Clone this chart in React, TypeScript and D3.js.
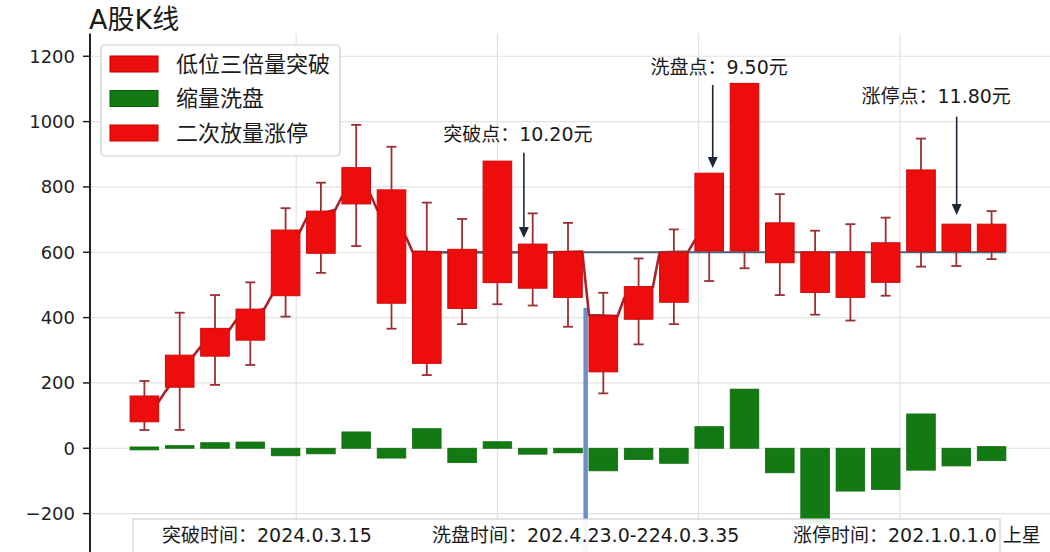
import React from "react";
import * as d3 from "d3";

// ---- data ----
const candles = [0, 1, 2, 3, 4, 5, 6, 7, 8, 9, 10, 11, 12, 13, 14, 15, 16, 17, 18, 19, 20, 21, 22, 23, 24];
const boxLow = [81, 187, 282, 331, 467, 597, 748, 444, 260, 428, 507, 490, 462, 234, 395, 447, 604, 604, 568, 477, 462, 508, 603, 603, 603];
const boxHigh = [160, 285, 367, 426, 668, 726, 859, 791, 602, 609, 879, 625, 602, 405, 495, 600, 842, 1117, 690, 601, 601, 629, 852, 686, 686];
const whiskLow = [56, 56, 194, 255, 403, 537, 619, 366, 224, 380, 441, 437, 372, 168, 318, 380, 512, 551, 469, 409, 391, 467, 556, 558, 579];
const whiskHigh = [206, 415, 469, 508, 735, 813, 990, 923, 752, 702, 879, 719, 690, 476, 581, 670, 842, 1117, 778, 666, 686, 706, 948, 686, 726];
// trend line: value where it enters (left edge) and leaves (right edge) each candle
const trendIn = [100, 174, 311, 392, 465, 705, 770, 730, 602, 600, 600, 600, 600, 408, 460, 600, 637, null, null, null, null, null, null, null, null];
const trendOut = [143, 285, 362, 428, 663, 730, 776, 648, 600, 600, 600, 600, 602, 405, 494, 602, 640, null, null, null, null, null, null, null, null];
const volLow = [-5, 0, 0, 0, -23, -17, 0, -30, 0, -44, 0, -18, -14, -69, -34, -46, 0, 0, -75, -230, -131, -126, -67, -54, -38];
const volHigh = [4, 8, 17, 19, 0, 0, 50, 0, 60, 0, 20, 0, 0, 0, 0, 0, 66, 181, 0, 0, 0, 0, 105, 0, 5];
const yTicks = [-200, 0, 200, 400, 600, 800, 1000, 1200];
const xGrid = [4.3, 10, 15.7, 21.4];
const breakLevel = 600;
const breakStart = 8;
const washLine = { x: 12.5, top: 430 };
const legendItems = [
  { label: "低位三倍量突破", color: "#ee0d0d", edge: "#c40000" },
  { label: "缩量洗盘", color: "#137a13", edge: "#0b5e0b" },
  { label: "二次放量涨停", color: "#ee0d0d", edge: "#c40000" },
];
const annotations = [
  { label: "突破点：10.20元", textX: 10.58, textY: 961, arrowX: 10.75, tail: 905, tip: 644 },
  { label: "洗盘点：9.50元", textX: 16.28, textY: 1168, arrowX: 16.1, tail: 1112, tip: 858 },
  { label: "涨停点：11.80元", textX: 22.43, textY: 1079, arrowX: 23.01, tail: 1015, tip: 714 },
];
const footerTexts = [
  { label: "突破时间：2024.0.3.15", x: 162 },
  { label: "洗盘时间：202.4.23.0-224.0.3.35", x: 432 },
  { label: "涨停时间：202.1.0.1.0 上星", x: 793 },
];

const FONT = '"DejaVu Sans", "Noto Sans CJK SC", sans-serif';
const W = 1050;
const H = 552;

export default function App() {
  const x = d3.scaleLinear().domain([0, 24]).range([144.4, 991.6]);
  const y = d3.scaleLinear().domain([-320, 1270]).range([552.8, 33.4]);
  const halfW = (x(1) - x(0)) * 0.405;
  const axisX = 90;

  const trendPts: [number, number][] = [];
  candles.forEach((c, i) => {
    if (trendIn[i] != null) trendPts.push([x(c) - halfW, y(trendIn[i] as number)]);
    if (trendOut[i] != null) trendPts.push([x(c) + halfW, y(trendOut[i] as number)]);
  });
  const trendPath = d3.line()(trendPts) || "";

  return (
    <svg width={W} height={H} style={{ position: "absolute", left: 0, top: 0, display: "block", background: "#fff" }}>
      {/* grid */}
      {yTicks.map((t) => (
        <line key={"gy" + t} x1={axisX} x2={W} y1={y(t)} y2={y(t)} stroke="#e2e2e2" strokeWidth={1.2} />
      ))}
      {xGrid.map((g) => (
        <line key={"gx" + g} x1={x(g)} x2={x(g)} y1={y(1270)} y2={H} stroke="#e2e2e2" strokeWidth={1.2} />
      ))}

      {/* volume bars */}
      {candles.map((c, i) => (
        <rect
          key={"v" + i}
          x={x(c) - halfW}
          width={halfW * 2}
          y={y(volHigh[i])}
          height={Math.max(2, y(volLow[i]) - y(volHigh[i]))}
          fill="#137a13"
          stroke="#0e6a0e"
          strokeWidth={0.8}
        />
      ))}

      {/* wash vertical line */}
      <line x1={x(washLine.x)} x2={x(washLine.x)} y1={y(washLine.top)} y2={H} stroke="#6b8fc6" strokeWidth={4.5} />

      {/* trend line */}
      <path d={trendPath} fill="none" stroke="#a8262b" strokeWidth={2.6} strokeLinejoin="round" />

      {/* breakthrough level line */}
      <line
        x1={x(breakStart) - halfW}
        x2={x(24) + halfW}
        y1={y(breakLevel)}
        y2={y(breakLevel)}
        stroke="#4a6379"
        strokeWidth={2}
      />

      {/* whiskers */}
      {candles.map((c, i) => {
        const cx = x(c);
        return (
          <g key={"w" + i} stroke="#9b2f34" strokeWidth={1.8}>
            {whiskHigh[i] > boxHigh[i] && (
              <>
                <line x1={cx} x2={cx} y1={y(whiskHigh[i])} y2={y(boxHigh[i])} />
                <line x1={cx - 5} x2={cx + 5} y1={y(whiskHigh[i])} y2={y(whiskHigh[i])} />
              </>
            )}
            {whiskLow[i] < boxLow[i] && (
              <>
                <line x1={cx} x2={cx} y1={y(boxLow[i])} y2={y(whiskLow[i])} />
                <line x1={cx - 5} x2={cx + 5} y1={y(whiskLow[i])} y2={y(whiskLow[i])} />
              </>
            )}
          </g>
        );
      })}

      {/* boxes */}
      {candles.map((c, i) => (
        <rect
          key={"b" + i}
          x={x(c) - halfW}
          width={halfW * 2}
          y={y(boxHigh[i])}
          height={y(boxLow[i]) - y(boxHigh[i])}
          fill="#ee0d0d"
          stroke="#cf0606"
          strokeWidth={1}
        />
      ))}

      {/* annotations */}
      {annotations.map((a) => {
        const ax = x(a.arrowX);
        const tipY = y(a.tip);
        return (
          <g key={a.label}>
            <text
              x={x(a.textX)}
              y={y(a.textY)}
              textAnchor="middle"
              dominantBaseline="central"
              fontFamily={FONT}
              fontSize={19}
              fill="#1a1a1a"
            >
              {a.label}
            </text>
            <line x1={ax} x2={ax} y1={y(a.tail)} y2={tipY - 9} stroke="#1c2838" strokeWidth={1.6} />
            <path d={`M${ax},${tipY} L${ax - 5},${tipY - 11} L${ax + 5},${tipY - 11} Z`} fill="#1c2838" />
          </g>
        );
      })}

      {/* footer box */}
      <rect x={133} y={519} width={867} height={40} fill="#ffffff" fillOpacity={0.92} stroke="#cfcfcf" strokeWidth={1.2} />
      {footerTexts.map((f) => (
        <text key={f.label} x={f.x} y={542} fontFamily={FONT} fontSize={19} fill="#1a1a1a">
          {f.label}
        </text>
      ))}

      {/* y axis */}
      <line x1={axisX} x2={axisX} y1={y(1270)} y2={H} stroke="#222" strokeWidth={2} />
      {yTicks.map((t) => (
        <g key={"t" + t}>
          <line x1={axisX - 7} x2={axisX} y1={y(t)} y2={y(t)} stroke="#222" strokeWidth={1.5} />
          <text
            x={axisX - 15}
            y={y(t)}
            textAnchor="end"
            dominantBaseline="central"
            fontFamily={FONT}
            fontSize={18}
            fill="#222"
          >
            {t < 0 ? "\u2212" + Math.abs(t) : t}
          </text>
        </g>
      ))}

      {/* title */}
      <text x={89} y={29} fontFamily={FONT} fontSize={27} fill="#1a1a1a">
        A股K线
      </text>

      {/* legend */}
      <rect x={101} y={45} width={239} height={111} rx={4} fill="#fff" stroke="#cccccc" strokeWidth={1.2} />
      {legendItems.map((l, i) => {
        const cy = 64 + i * 34.5;
        return (
          <g key={l.label + i}>
            <rect x={110} y={cy - 8} width={48} height={16} fill={l.color} stroke={l.edge} strokeWidth={1} />
            <text x={176} y={cy} dominantBaseline="central" fontFamily={FONT} fontSize={22} fill="#1a1a1a">
              {l.label}
            </text>
          </g>
        );
      })}
    </svg>
  );
}
